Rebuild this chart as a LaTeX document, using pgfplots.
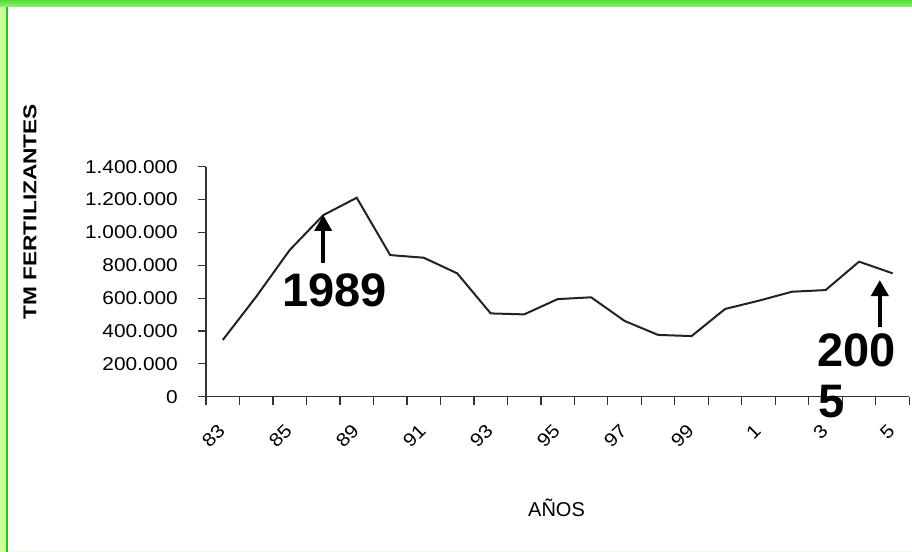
\documentclass[border=0pt]{standalone}
\usepackage{pgfplots}
\pgfplotsset{compat=1.18}
\usepackage{pgfplotstable}
\usetikzlibrary{arrows.meta}
\usepackage{fontspec}
\setmainfont{Liberation Sans}
\newfontfamily\tickf[FakeStretch=1.12]{Liberation Sans}
\newfontfamily\ylabf[FakeStretch=1.22]{Liberation Sans}
\newfontfamily\bigf{Liberation Sans}
\definecolor{lime}{HTML}{CCFF99}
\definecolor{bordgreen}{HTML}{1ACC10}
\definecolor{topA}{HTML}{55DD3A}
\definecolor{topB}{HTML}{8CF270}
\definecolor{axisgray}{HTML}{333333}
\definecolor{linecol}{HTML}{222222}

\pgfplotstableread{
x y
0.5 345000
1.5 609000
2.5 893000
3.5 1105000
4.5 1211000
5.5 862000
6.5 846000
7.5 751000
8.5 507000
9.5 501000
10.5 594000
11.5 605000
12.5 461000
13.5 376000
14.5 369000
15.5 534000
16.5 584000
17.5 639000
18.5 649000
19.5 822000
20.5 751000
}\fert

\begin{document}
\begin{tikzpicture}
\path[use as bounding box, fill=white] (0,0) rectangle (912bp,552bp);
\fill[lime] (0,0) rectangle (6bp,552bp);
\fill[bordgreen] (6bp,0) rectangle (8.3bp,552bp);
\shade[top color=topA, bottom color=topB] (0,545.3bp) rectangle (912bp,552bp);
\fill[green!8] (8.3bp,0) rectangle (912bp,1bp);
\begin{axis}[
  at={(206bp,155.3bp)}, anchor=south west,
  scale only axis, width=703.3bp, height=230bp,
  xmin=0, xmax=21, ymin=0, ymax=1400000,
  axis x line=bottom, axis y line=left,
  axis line style={-, draw=axisgray, line width=1.3bp},
  tick align=outside, major tick length=8bp, minor tick length=8bp,
  tick style={draw=axisgray, line width=1.2bp},
  minor xtick={0,...,21},
  xtick={0.5,2.5,4.5,6.5,8.5,10.5,12.5,14.5,16.5,18.5,20.5},
  xticklabels={83,85,89,91,93,95,97,99,1,3,5},
  major x tick style={draw=none},
  xticklabel style={font=\tickf\fontsize{18.6bp}{20bp}\selectfont, inner sep=0pt, yshift=-23bp, xshift=-1bp, rotate=45, anchor=east},
  ytick={0,200000,400000,600000,800000,1000000,1200000,1400000},
  yticklabels={0,200.000,400.000,600.000,800.000,1.000.000,1.200.000,1.400.000},
  scaled y ticks=false,
  yticklabel style={font=\tickf\fontsize{18.6bp}{20bp}\selectfont, inner sep=0pt, anchor=east, xshift=-20bp},
  clip=false,
]
\addplot[color=linecol, line width=2bp, mark=none] table[x=x, y=y]{\fert};
\draw[line width=4.5bp, -{Triangle[width=17bp,length=16bp]}] (axis cs:3.5,814000) -- (axis cs:3.5,1106000);
\draw[line width=4.5bp, -{Triangle[width=17bp,length=16bp]}] (axis cs:20.12,426000) -- (axis cs:20.12,710000);
\end{axis}
\node[anchor=base west, inner sep=0pt, font=\bigf\bfseries\fontsize{47bp}{50bp}\selectfont] at (282bp,245.3bp) {1989};
\node[anchor=base west, inner sep=0pt, font=\bigf\bfseries\fontsize{47bp}{50bp}\selectfont] at (817bp,185.3bp) {200};
\node[anchor=base west, inner sep=0pt, font=\bigf\bfseries\fontsize{47bp}{50bp}\selectfont] at (818bp,134bp) {5};
\node[rotate=90, inner sep=0pt, font=\ylabf\bfseries\fontsize{18.6bp}{20bp}\selectfont] at (30bp,340.3bp) {TM FERTILIZANTES};
\node[anchor=base, inner sep=0pt, font=\fontsize{20bp}{22bp}\selectfont] at (556.5bp,36bp) {AÑOS};
\end{tikzpicture}
\end{document}
